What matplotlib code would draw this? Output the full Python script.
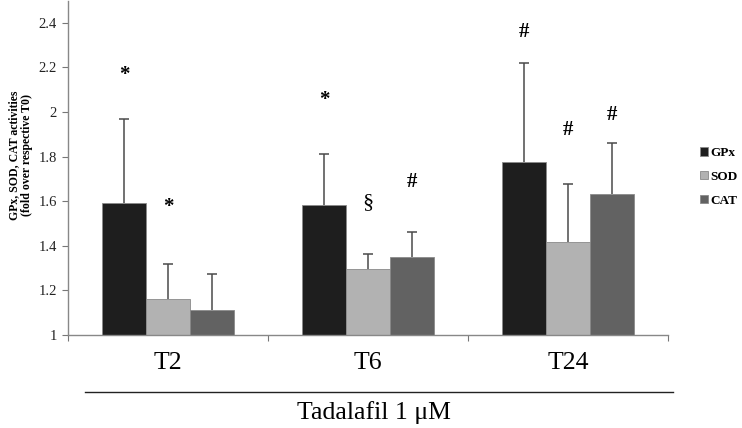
import matplotlib
matplotlib.use("Agg")
import matplotlib.pyplot as plt
import numpy as np

plt.rcParams['font.family'] = ['Liberation Serif', 'DejaVu Serif']

# data
times = ['T2', 'T6', 'T24']
enzymes = ['GPx', 'SOD', 'CAT']
gpx = [1.59, 1.583, 1.775]
sod = [1.16, 1.295, 1.417]
cat = [1.112, 1.35, 1.632]
gpx_err = [0.378, 0.227, 0.445]
sod_err = [0.158, 0.068, 0.26]
cat_err = [0.161, 0.11, 0.229]

# significance marks: (group, bar, symbol, y)
marks = [
    (0, 0, '*', 2.166), (0, 1, '*', 1.574),
    (1, 0, '*', 2.054), (1, 1, '§', 1.592), (1, 2, '#', 1.686),
    (2, 0, '#', 2.359), (2, 1, '#', 1.919), (2, 2, '#', 1.987),
]

colors = ['#1e1e1e', '#b2b2b2', '#626262']
width = 0.22

fig = plt.figure(figsize=(7.42, 4.28), dpi=100)
ax = fig.add_axes([68 / 742, 1 - 335 / 428, 600 / 742, 334.5 / 428])

x = np.arange(len(times))
series = [(gpx, gpx_err), (sod, sod_err), (cat, cat_err)]
for i, (vals, errs) in enumerate(series):
    pos = x + (i - 1) * width
    ax.bar(pos, np.array(vals) - 1, width, bottom=1, color=colors[i],
           edgecolor='#8a8a8a', linewidth=0.6, label=enzymes[i], zorder=2)
    eb = ax.errorbar(pos, vals, yerr=[np.zeros(len(errs)), errs], fmt='none',
                     ecolor='#4a4a4a', elinewidth=1.1, capsize=3.5, capthick=1.1,
                     zorder=3)
    # only the upper whisker has a cap
    eb[1][0].set_visible(False)

for g, b, sym, yv in marks:
    ax.text(x[g] + (b - 1) * width, yv, sym, ha='center', va='center',
            fontsize=15 if sym != '§' else 16,
            fontweight='bold' if sym != '§' else 'normal')

ax.set_xlim(-0.5, 2.5)
ax.set_ylim(1, 2.5)
ax.set_yticks([1, 1.2, 1.4, 1.6, 1.8, 2, 2.2, 2.4])
ax.set_yticklabels(['1', '1.2', '1.4', '1.6', '1.8', '2', '2.2', '2.4'],
                   fontsize=10.5, color='#222222')
ax.set_xticks([-0.5, 0.5, 1.5, 2.5])
ax.set_xticklabels([])
ax.set_xticks(x, minor=True)
ax.set_xticklabels(times, minor=True, fontsize=18.5)
ax.tick_params(axis='x', which='minor', length=0, pad=12)
ax.tick_params(axis='x', which='major', length=4, color='#777777', direction='out')
ax.tick_params(axis='y', length=4, color='#777777', direction='out', pad=4)
for s in ['top', 'right']:
    ax.spines[s].set_visible(False)
for s in ['left', 'bottom']:
    ax.spines[s].set_color('#888888')
    ax.spines[s].set_linewidth(1.0)

ax.set_ylabel('GPx, SOD, CAT activities\n(fold over respective T0)',
              fontsize=8.5, fontweight='bold', linespacing=1.1)
ax.yaxis.set_label_coords(-0.058, 0.538)

# group line and treatment label below the categories
ax.plot([0.028, 1.008], [-0.170, -0.170], transform=ax.transAxes,
        color='#222222', linewidth=1.0, clip_on=False)
ax.text(0.51, -0.233, 'Tadalafil 1 μM', transform=ax.transAxes,
        ha='center', va='center', fontsize=18.5)

fig.legend(loc='upper left', bbox_to_anchor=(700 / 742, 1 - 147 / 428),
           frameon=False, prop={'size': 9.5, 'weight': 'bold'},
           handlelength=0.6, handleheight=0.6, handletextpad=0.15,
           labelspacing=0.9, borderpad=0, borderaxespad=0)

fig.savefig('out.png', dpi=100)
